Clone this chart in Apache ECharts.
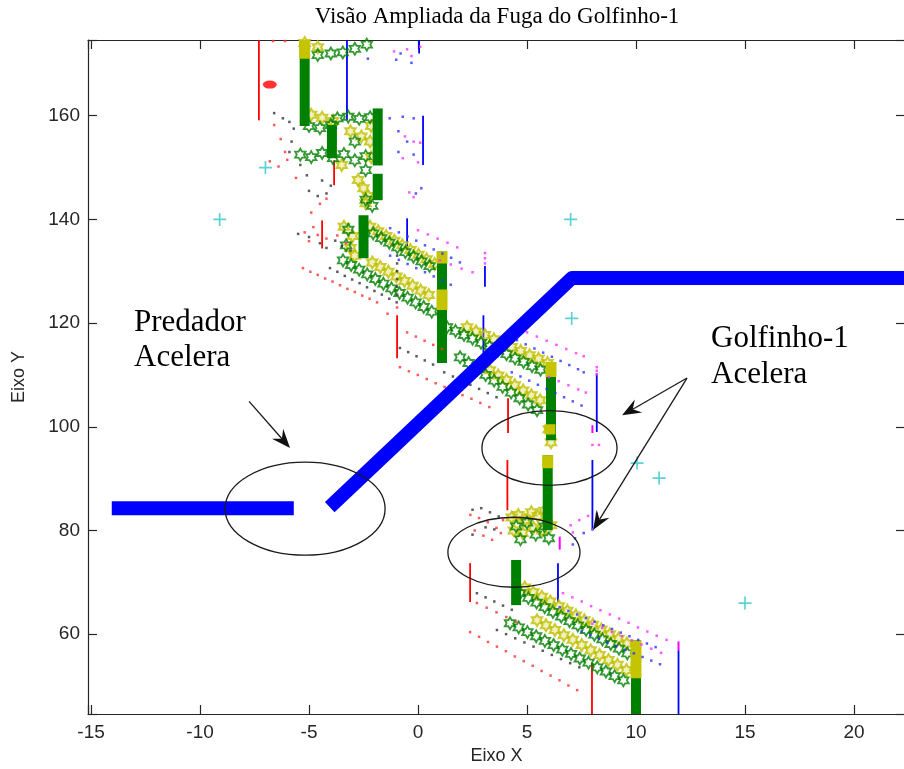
<!DOCTYPE html>
<html>
<head>
<meta charset="utf-8">
<script src="https://cdn.jsdelivr.net/npm/echarts@6.0.0/dist/echarts.min.js"></script>
<style>html,body{margin:0;padding:0;background:#fff}#chart{width:904px;height:769px}</style>
</head>
<body>
<div id="chart"></div>
<script>
// axis ranges
const xMin = -15.14, xMax = 22.34, yMin = 44.6, yMax = 174.6;

// predator path (two pieces)
const predatorA = [[-14.05, 84.3], [-5.7, 84.3]];
const predatorB = [[-4.05, 84.5], [7.06, 128.7], [22.34, 128.7]];

// dense vertical runs of the dolphins: [x, yFrom, yTo]
const greenCols = [[-5.2, 158.0, 174.6], [-3.95, 151.8, 158.2], [-1.85, 150.4, 161.4], [-1.85, 143.7, 148.8],
  [-2.5, 132.5, 140.8], [1.1, 112.3, 133.8], [6.1, 97.4, 112.5], [5.95, 80.1, 94.5], [4.5, 65.6, 74.3], [10.0, 44.6, 58.8]];
const yellowCols = [[-5.2, 171.0, 174.6], [1.1, 131.5, 133.8], [1.1, 122.5, 126.5], [6.1, 109.6, 112.5],
  [6.05, 98.5, 100.5], [5.95, 92.0, 94.5], [10.0, 51.5, 58.8]];
const redSegs = [[-7.3, 159.1, 174.6], [-3.85, 146.6, 151.4], [-4.4, 134.4, 139.8], [-0.96, 113.2, 121.5],
  [4.13, 98.8, 105.5], [4.1, 83.9, 93.6], [2.39, 66.2, 73.7], [7.98, 44.6, 54.5]];
const blueSegs = [[-3.26, 159.1, 174.6], [0.05, 172.0, 174.6], [0.23, 150.5, 160.0], [-0.5, 134.6, 140.2],
  [3.07, 127.0, 131.0], [3.0, 114.2, 121.5], [8.2, 99.0, 110.3], [8.0, 80.4, 93.6], [6.42, 66.2, 73.7], [11.95, 44.6, 56.9]];
const magentaSegs = [[8.0, 98.8, 100.3], [6.5, 76.3, 78.8], [11.95, 56.9, 58.6]];

// star markers (hexagrams)
const greenStars = [
  [-4.6, 171.7], [-4.0, 172.0], [-3.45, 172.2], [-2.9, 172.9], [-2.35, 173.7],
  [-5.0, 158.0], [-4.5, 157.6], [-4.0, 158.2], [-3.7, 159.5], [-3.2, 159.8], [-2.7, 159.4], [-2.2, 159.7],
  [-5.4, 152.5], [-4.9, 152.0], [-4.4, 152.8], [-3.9, 151.8], [-3.4, 152.6], [-2.9, 151.4], [-2.4, 152.2],
  [-2.9, 155.0], [-2.4, 149.5], [-2.4, 143.8], [-2.1, 142.6],
  [-3.2, 138.0], [-3.3, 135.0],
  [-2.06, 137.3], [-1.69, 136.4], [-1.32, 135.5], [-0.95, 134.6], [-0.58, 133.7], [-0.21, 132.8], [0.16, 131.9], [0.53, 131.0],
  [-3.44, 132.1], [-3.07, 131.2], [-2.7, 130.3], [-2.33, 129.4], [-1.96, 128.5], [-1.59, 127.6], [-1.22, 126.7],
  [-0.85, 125.8], [-0.48, 124.9], [-0.11, 124.0], [0.26, 123.1], [0.63, 122.2],
  [1.33, 119.2], [1.72, 118.5], [2.11, 117.7], [2.5, 117.0], [2.89, 116.2], [3.28, 115.5], [3.67, 114.7],
  [4.06, 114.0], [4.45, 113.2], [4.84, 112.5], [5.23, 111.7], [5.62, 111.0],
  [1.93, 113.4], [2.32, 112.3], [2.71, 111.1], [3.1, 110.0], [3.49, 108.9], [3.88, 107.7], [4.27, 106.6],
  [4.66, 105.5], [5.05, 104.3], [5.46, 103.2],
  [4.5, 80.8], [5.0, 81.5], [5.4, 79.2], [5.8, 80.8], [6.0, 78.5], [4.7, 78.3],
  [4.68, 67.9], [5.06, 67.0], [5.44, 66.1], [5.81, 65.2], [6.19, 64.3], [6.57, 63.4], [6.95, 62.5],
  [7.33, 61.7], [7.71, 60.8], [8.09, 59.9], [8.46, 59.0], [8.84, 58.1], [9.22, 57.2], [9.6, 56.3],
  [4.22, 62.1], [4.62, 61.3], [5.02, 60.4], [5.42, 59.6], [5.82, 58.7], [6.22, 57.9], [6.62, 57.0],
  [7.02, 56.2], [7.42, 55.3], [7.82, 54.5], [8.22, 53.6], [8.62, 52.8], [9.02, 51.9], [9.42, 51.1]
];
const yellowStars = [
  [-5.2, 174.0], [-4.6, 173.2],
  [-4.9, 160.2], [-4.4, 159.6], [-3.9, 159.0], [-3.1, 157.0], [-2.6, 156.0], [-2.2, 155.0], [-2.15, 158.0],
  [-2.15, 152.0], [-2.75, 147.6], [-2.5, 146.0], [-2.3, 144.5], [-2.4, 143.1], [-3.5, 150.5],
  [-3.4, 138.6], [-3.0, 136.8], [-3.1, 134.5], [-2.9, 133.0],
  [-2.2, 138.6], [-1.83, 137.7], [-1.46, 136.8], [-1.09, 135.9], [-0.72, 135.0], [-0.35, 134.1], [0.02, 133.2], [0.39, 132.3], [0.76, 131.4],
  [-2.1, 131.7], [-1.73, 130.8], [-1.36, 129.9], [-0.99, 129.0], [-0.62, 128.1], [-0.25, 127.2], [0.12, 126.3], [0.49, 125.4],
  [2.25, 119.2], [2.66, 118.4], [3.07, 117.7], [3.48, 116.9], [3.89, 116.1], [4.3, 115.4], [4.71, 114.6],
  [5.12, 113.8], [5.53, 113.1], [5.94, 112.3],
  [3.3, 110.9], [3.68, 109.9], [4.06, 109.0], [4.44, 108.0], [4.82, 107.0], [5.2, 106.1], [5.6, 105.1],
  [6.0, 99.5], [6.1, 97.0],
  [4.3, 82.5], [4.6, 83.0], [4.9, 82.0], [5.2, 83.5], [5.5, 82.8], [5.8, 83.8], [4.4, 80.0], [4.8, 79.5],
  [5.3, 80.5], [5.7, 80.0], [6.1, 81.0],
  [4.9, 69.0], [5.29, 68.1], [5.68, 67.2], [6.07, 66.3], [6.46, 65.4], [6.85, 64.5], [7.24, 63.6],
  [7.63, 62.7], [8.02, 61.8], [8.41, 60.9], [8.8, 60.0], [9.19, 59.1], [9.58, 58.2],
  [5.46, 62.7], [5.87, 61.7], [6.28, 60.8], [6.69, 59.8], [7.1, 58.9], [7.51, 57.9], [7.92, 56.9],
  [8.33, 56.0], [8.74, 55.0], [9.15, 54.1], [9.56, 53.1]
];

// small dot markers
const redDots = [
  [-6.65, 174.4], [-6.1, 174.4], [-6.6, 158.2], [-6.3, 155.5], [-6.1, 153.0], [-6.8, 151.2], [-6.4, 150.2], [-6.0, 151.5], [-5.6, 148.0],
  [-4.5, 143.0], [-4.9, 141.3], [-4.2, 144.0],
  [-5.2, 137.5], [-4.8, 138.5], [-4.6, 137.0], [-5.0, 135.8], [-4.2, 136.3], [-3.7, 136.9], [-3.3, 135.4],
  [-5.28, 130.6], [-4.94, 129.9], [-4.6, 129.3], [-4.26, 128.6], [-3.92, 128.0], [-3.58, 127.3], [-3.24, 126.6],
  [-2.9, 126.0], [-2.56, 125.3], [-2.22, 124.7], [-1.88, 124.0],
  [-1.4, 121.8], [-0.96, 123.0],
  [-0.5, 118.2], [-0.1, 117.4], [0.3, 116.6], [0.7, 115.8], [1.1, 115.0],
  [-0.83, 111.5], [-0.42, 110.7], [-0.01, 110.0], [0.4, 109.2], [0.81, 108.4], [1.22, 107.7], [1.63, 106.9],
  [2.04, 106.1], [2.45, 105.4], [2.86, 104.6], [3.27, 103.8],
  [2.4, 83.0], [2.8, 82.4], [3.2, 81.6], [3.6, 80.5], [2.6, 80.0], [3.0, 79.0], [3.4, 78.2], [3.8, 79.5], [3.9, 82.0],
  [2.7, 66.0], [3.15, 65.1], [3.6, 64.2], [4.05, 63.3], [4.5, 62.4],
  [2.39, 60.4], [2.8, 59.5], [3.21, 58.5], [3.62, 57.6], [4.03, 56.7], [4.44, 55.7], [4.85, 54.8],
  [5.26, 53.9], [5.67, 52.9], [6.08, 52.0], [6.49, 51.1], [6.9, 50.1], [7.3, 49.2]
];
const blackDots = [
  [-6.6, 160.5], [-6.2, 159.5], [-5.9, 158.8], [-5.7, 157.5], [-5.8, 155.0], [-5.9, 153.0], [-5.4, 150.5],
  [-5.1, 148.5], [-5.0, 145.5], [-4.4, 147.5], [-4.0, 146.5], [-4.2, 145.0], [-4.6, 144.5],
  [-5.5, 137.2], [-5.0, 136.6], [-4.5, 135.4], [-4.2, 134.5], [-3.8, 135.9], [-3.5, 134.8], [-3.1, 134.0],
  [-4.04, 130.6], [-3.7, 129.9], [-3.36, 129.1], [-3.02, 128.4], [-2.68, 127.7], [-2.34, 126.9], [-2.0, 126.2],
  [-1.66, 125.5], [-1.32, 124.7], [-0.98, 124.0],
  [-0.96, 133.0], [-0.96, 131.5], [-0.96, 130.0], [-0.96, 128.5], [-0.96, 127.0], [-0.96, 125.5],
  [-0.83, 115.2], [-0.45, 114.4], [-0.07, 113.6], [0.31, 112.8], [0.69, 112.0],
  [1.2, 110.5], [1.6, 109.7], [2.0, 108.9], [2.4, 108.1], [2.8, 107.3], [3.2, 106.5], [3.6, 105.7],
  [2.5, 84.0], [2.9, 84.3], [3.3, 83.5], [3.7, 82.7], [3.1, 80.6], [3.5, 80.2], [2.5, 79.2],
  [2.7, 67.9], [3.1, 67.1], [3.5, 66.3], [3.9, 65.5], [4.3, 64.7],
  [3.62, 60.8], [4.04, 60.0], [4.46, 59.2], [4.88, 58.4], [5.3, 57.6], [5.72, 56.8], [6.14, 56.0],
  [6.56, 55.2], [6.98, 54.4], [7.4, 53.6]
];
const blueDots = [
  [-2.3, 171.0], [-1.0, 170.8], [-0.3, 170.2], [-0.8, 172.0],
  [-1.3, 159.5], [-0.7, 159.8], [-0.2, 159.5], [-0.9, 157.0], [-0.5, 155.0], [-0.9, 153.0], [-0.2, 152.5], [-0.1, 145.0], [0.15, 146.0],
  [-1.28, 138.3], [-0.88, 137.5], [-0.48, 136.7], [-0.08, 135.9], [0.32, 135.0], [0.72, 134.2], [1.12, 133.4], [1.52, 132.6], [1.92, 131.7],
  [-1.28, 133.0], [-0.88, 132.2], [-0.48, 131.4], [-0.08, 130.6], [0.32, 129.8], [0.72, 129.0], [1.12, 128.2], [1.5, 127.4],
  [4.54, 116.7], [4.94, 115.9], [5.34, 115.1], [5.74, 114.3], [6.14, 113.5], [6.54, 112.7], [6.94, 111.9], [7.34, 111.1], [7.6, 110.5],
  [4.3, 110.5], [4.7, 109.7], [5.1, 108.9], [5.5, 108.1], [5.9, 107.3], [6.3, 106.5], [6.7, 105.7], [7.1, 104.9], [7.5, 104.1],
  [7.2, 78.5], [7.6, 79.5], [8.0, 80.2], [7.1, 77.3],
  [6.5, 65.2], [6.9, 64.5], [7.3, 63.8], [7.7, 63.1], [8.1, 62.4], [8.5, 61.7], [8.9, 61.0], [9.3, 60.3],
  [9.7, 59.6], [10.1, 58.9], [10.5, 58.2], [10.9, 57.5],
  [7.5, 60.5], [7.9, 59.8], [8.3, 59.1], [8.7, 58.4], [9.1, 57.7], [9.5, 57.0], [9.9, 56.3], [10.3, 55.6], [10.7, 54.9], [11.1, 54.2]
];
const magentaDots = [
  [-1.1, 172.4], [-0.5, 172.8], [0.1, 173.3], [-0.3, 171.5],
  [-0.6, 156.0], [-0.2, 155.0], [0.1, 154.8], [-0.7, 151.8], [0.0, 151.0], [-0.4, 145.2], [-0.2, 144.3],
  [0.0, 137.9], [0.45, 137.1], [0.9, 136.3], [1.35, 135.5], [1.8, 134.6], [1.0, 132.1], [1.5, 131.3], [2.0, 130.5], [2.5, 129.8],
  [3.07, 131.5], [3.07, 132.5], [3.07, 133.5],
  [5.0, 118.2], [5.45, 117.4], [5.9, 116.6], [6.35, 115.8], [6.8, 115.0], [7.25, 114.2], [7.6, 113.6],
  [6.0, 109.6], [6.45, 108.8], [6.9, 108.0], [7.35, 107.2], [7.7, 106.6],
  [8.2, 111.5], [8.2, 110.8], [8.2, 110.1], [8.0, 96.5], [8.3, 96.5],
  [7.0, 81.0], [7.4, 82.0], [7.8, 82.8], [8.2, 83.2], [7.1, 79.6],
  [6.65, 67.9], [7.08, 67.1], [7.51, 66.3], [7.94, 65.4], [8.37, 64.6], [8.8, 63.8], [9.23, 63.0],
  [9.66, 62.2], [10.09, 61.3], [10.52, 60.5], [10.95, 59.7], [11.4, 58.9],
  [8.0, 62.0], [8.45, 61.2], [8.9, 60.4], [9.35, 59.6], [9.8, 58.8], [10.25, 58.0], [10.7, 57.2], [11.15, 56.4]
];
const cyanPlus = [[-7.0, 150.0], [-9.1, 140.0], [7.0, 140.0], [7.05, 120.9], [10.05, 93.0], [11.06, 90.1], [15.0, 66.0]];
const redBlob = [[-6.8, 166.0]];

// annotations in data units
const ellipses = [[-5.18, 84.2, 3.67, 8.97], [6.03, 95.9, 3.1, 7.2], [4.4, 75.8, 3.03, 6.75]];
const arrows = [[-7.75, 104.9, -5.87, 95.9], [12.34, 109.4, 9.36, 102.2], [12.34, 109.4, 8.03, 80.1]];

const hexPath = 'path://M0,-10L2.89,-5L8.66,-5L5.77,0L8.66,5L2.89,5L0,10L-2.89,5L-8.66,5L-5.77,0L-8.66,-5L-2.89,-5Z';
const plusPath = 'path://M-1.3,-10L1.3,-10L1.3,-1.3L10,-1.3L10,1.3L1.3,1.3L1.3,10L-1.3,10L-1.3,1.3L-10,1.3L-10,-1.3L-1.3,-1.3Z';
const axisColor = '#262626';
const sans = 'Liberation Sans, Arial, sans-serif';
const serif = 'Liberation Serif, Times New Roman, serif';

const chart = echarts.init(document.getElementById('chart'));

const segSeries = (segs, color, width, z) => segs.map(s => ({
  type: 'line', data: [[s[0], s[1]], [s[0], s[2]]], symbol: 'none', silent: true, z,
  lineStyle: { color, width, cap: 'butt' }
}));
const dotSeries = (data, color) => ({
  type: 'scatter', data, symbol: 'rect', symbolSize: 2.5, silent: true, z: 5,
  itemStyle: { color }
});
const fmt = step => v => Math.abs(v / step - Math.round(v / step)) < 1e-6 ? String(Math.round(v)) : '';

const baseAxis = {
  type: 'value', splitLine: { show: false },
  axisLine: { onZero: false, lineStyle: { color: axisColor, width: 1.2 } },
  axisTick: { inside: true, length: 9, lineStyle: { color: axisColor, width: 1.2 } }
};

const option = {
  animation: false,
  backgroundColor: '#fff',
  grid: { left: 88, top: 40, right: -1, bottom: 55, outerBoundsMode: 'none', containLabel: false },
  xAxis: [
    Object.assign({}, baseAxis, {
      min: xMin, max: xMax, minInterval: 5, maxInterval: 5,
      axisLabel: { formatter: fmt(5), color: axisColor, fontSize: 19, fontFamily: sans, margin: 9 },
      name: 'Eixo X', nameLocation: 'middle', nameGap: 33,
      nameTextStyle: { color: axisColor, fontSize: 18, fontFamily: sans }
    }),
    Object.assign({}, baseAxis, {
      position: 'top', min: xMin, max: xMax, minInterval: 5, maxInterval: 5, axisLabel: { show: false }
    })
  ],
  yAxis: [
    Object.assign({}, baseAxis, {
      min: yMin, max: yMax, minInterval: 20, maxInterval: 20,
      axisLabel: { formatter: fmt(20), color: axisColor, fontSize: 19, fontFamily: sans, margin: 8 },
      name: 'Eixo Y', nameLocation: 'middle', nameGap: 60,
      nameTextStyle: { color: axisColor, fontSize: 18, fontFamily: sans }
    }),
    Object.assign({}, baseAxis, {
      position: 'right', min: yMin, max: yMax, minInterval: 20, maxInterval: 20, axisLabel: { show: false }
    })
  ],
  series: [
    ...segSeries(redSegs, '#ff0000', 1.8, 2),
    ...segSeries(blueSegs, '#0000ff', 1.8, 2),
    ...segSeries(magentaSegs, '#ff00ff', 2, 2),
    {
      type: 'scatter', data: yellowStars, symbol: hexPath, symbolSize: 12, symbolKeepAspect: true, silent: true, z: 3,
      itemStyle: { color: 'rgba(210,210,60,0.4)', borderColor: '#bfbf00', borderWidth: 2 }
    },
    {
      type: 'scatter', data: greenStars, symbol: hexPath, symbolSize: 12, symbolKeepAspect: true, silent: true, z: 3,
      itemStyle: { color: 'rgba(0,0,0,0)', borderColor: '#008000', borderWidth: 1.8 }
    },
    ...segSeries(greenCols, '#008000', 10, 4),
    ...segSeries(yellowCols, '#c4c400', 11, 4),
    dotSeries(redDots, '#ff3030'),
    dotSeries(blackDots, '#333333'),
    dotSeries(blueDots, '#3030ff'),
    dotSeries(magentaDots, '#ff30ff'),
    {
      type: 'line', data: predatorA, symbol: 'none', silent: true, z: 6,
      lineStyle: { color: '#0000ff', width: 14, cap: 'butt' }
    },
    {
      type: 'line', data: predatorB, symbol: 'none', silent: true, z: 6,
      lineStyle: { color: '#0000ff', width: 14, cap: 'butt', join: 'round' }
    },
    {
      type: 'scatter', data: cyanPlus, symbol: plusPath, symbolSize: 13, silent: true, z: 7,
      itemStyle: { color: '#33c7c7' }
    },
    {
      type: 'scatter', data: redBlob, symbol: 'circle', symbolSize: [14, 8], silent: true, z: 7,
      itemStyle: { color: '#ff0000' }
    }
  ]
};

chart.setOption(option);

// annotations placed through the grid's own coordinate conversion
const px = (x, y) => chart.convertToPixel({ gridIndex: 0 }, [x, y]);
const graphics = [];
ellipses.forEach(e => {
  const c = px(e[0], e[1]);
  const r = px(e[0] + e[2], e[1] + e[3]);
  graphics.push({
    type: 'ellipse', z: 100, silent: true,
    shape: { cx: c[0], cy: c[1], rx: Math.abs(r[0] - c[0]), ry: Math.abs(r[1] - c[1]) },
    style: { fill: null, stroke: '#1a1a1a', lineWidth: 1.3 }
  });
});
arrows.forEach(a => {
  const p1 = px(a[0], a[1]), p2 = px(a[2], a[3]);
  const dx = p2[0] - p1[0], dy = p2[1] - p1[1];
  const len = Math.hypot(dx, dy), ux = dx / len, uy = dy / len, nx = -uy, ny = ux;
  const L = 19, W = 7.5;
  const base = [p2[0] - L * ux, p2[1] - L * uy];
  const notch = [p2[0] - 0.65 * L * ux, p2[1] - 0.65 * L * uy];
  graphics.push({
    type: 'line', z: 100, silent: true,
    shape: { x1: p1[0], y1: p1[1], x2: notch[0], y2: notch[1] },
    style: { stroke: '#1a1a1a', lineWidth: 1.3 }
  });
  graphics.push({
    type: 'polygon', z: 100, silent: true,
    shape: { points: [p2, [base[0] + W * nx, base[1] + W * ny], notch, [base[0] - W * nx, base[1] - W * ny]] },
    style: { fill: '#111' }
  });
});
const textEl = (text, x, y, size) => ({
  type: 'text', x, y, z: 100, silent: true,
  style: { text, fill: '#000', font: size + 'px ' + serif, textAlign: 'left', textVerticalAlign: 'middle' }
});
graphics.push(textEl('Predador', 134, 323, 31));
graphics.push(textEl('Acelera', 134, 358, 31));
graphics.push(textEl('Golfinho-1', 711, 339, 31));
graphics.push(textEl('Acelera', 711, 375, 31));
graphics.push({
  type: 'text', x: 497, y: 17, z: 100, silent: true,
  style: { text: 'Visão Ampliada da Fuga do Golfinho-1', fill: '#000', font: '23px ' + serif, textAlign: 'center', textVerticalAlign: 'middle' }
});
chart.setOption({ graphic: graphics });
</script>
</body>
</html>
